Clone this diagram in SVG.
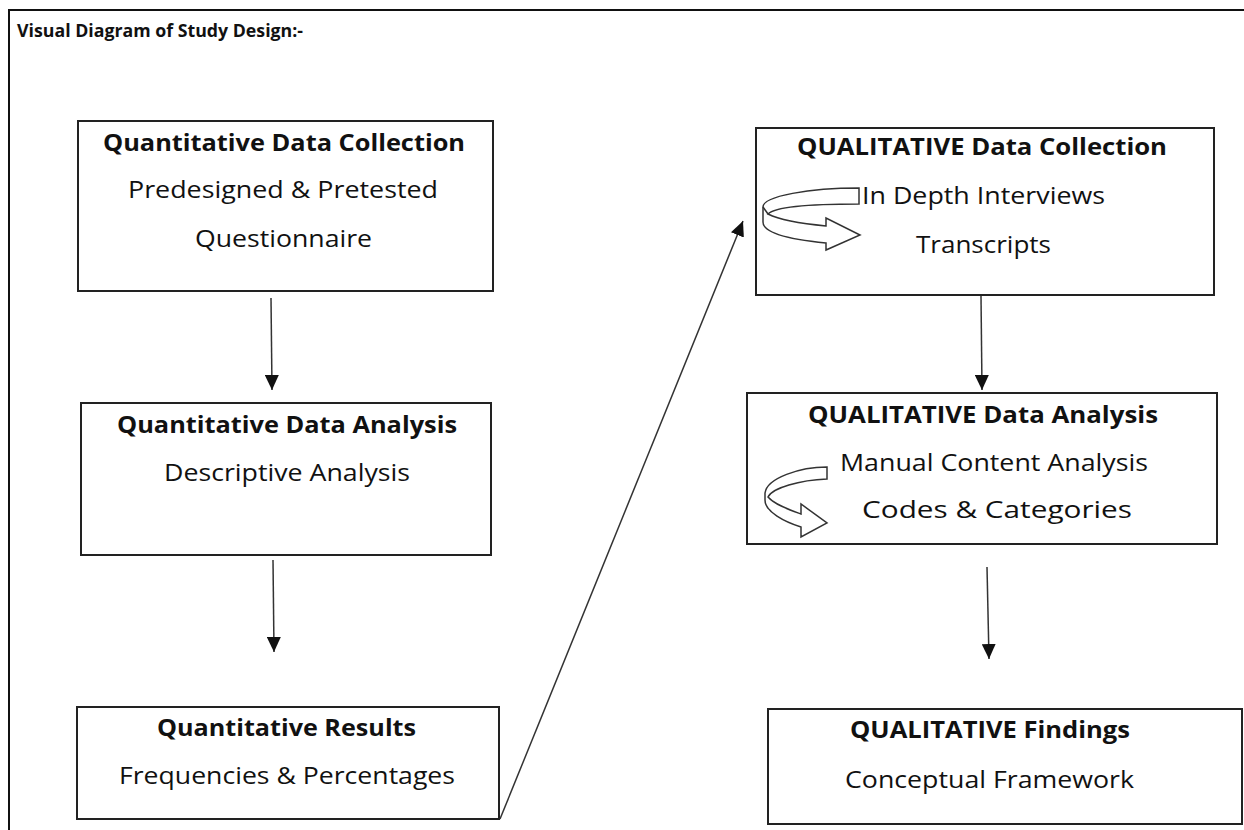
<svg xmlns="http://www.w3.org/2000/svg" width="1244" height="830" viewBox="0 0 1244 830">
<defs>
<style>
.box{fill:#fff;stroke:#222;stroke-width:2}
.t{font-family:"Open Sans",Lato,"Liberation Sans",sans-serif;font-size:23px;fill:#111}
.b{font-weight:bold}
.h{font-size:18px}
.c{fill:none;stroke:#333;stroke-width:1.5}
.ic{fill:#fff;stroke:#333;stroke-width:1.5;stroke-linejoin:miter}
</style>
<marker id="ah" markerUnits="userSpaceOnUse" markerWidth="16" markerHeight="14" viewBox="0 0 16 14" refX="15" refY="7" orient="auto">
<path d="M0 0 L15 7 L0 14 Z" fill="#111"/>
</marker>
</defs>
<rect width="1244" height="830" fill="#fff"/>
<path d="M9 830 L9 10 L1244 10" fill="none" stroke="#111" stroke-width="2"/>
<text class="t b h" x="17" y="37" textLength="286" lengthAdjust="spacingAndGlyphs">Visual Diagram of Study Design:-</text>

<g id="quant-collection">
<rect class="box" x="78" y="121" width="415" height="170"/>
<text class="t b" x="103" y="151" textLength="362" lengthAdjust="spacingAndGlyphs">Quantitative Data Collection</text>
<text class="t" x="128" y="198" textLength="310" lengthAdjust="spacingAndGlyphs">Predesigned &amp; Pretested</text>
<text class="t" x="195" y="247" textLength="177" lengthAdjust="spacingAndGlyphs">Questionnaire</text>
</g>

<g id="quant-analysis">
<rect class="box" x="81" y="403" width="410" height="152"/>
<text class="t b" x="117" y="433" textLength="340" lengthAdjust="spacingAndGlyphs">Quantitative Data Analysis</text>
<text class="t" x="164" y="481" textLength="246" lengthAdjust="spacingAndGlyphs">Descriptive Analysis</text>
</g>

<g id="quant-results">
<rect class="box" x="77" y="707" width="422" height="112"/>
<text class="t b" x="157" y="736" textLength="259" lengthAdjust="spacingAndGlyphs">Quantitative Results</text>
<text class="t" x="119" y="784" textLength="336" lengthAdjust="spacingAndGlyphs">Frequencies &amp; Percentages</text>
</g>

<g id="qual-collection">
<rect class="box" x="756" y="128" width="458" height="167"/>
<text class="t b" x="797" y="155" textLength="370" lengthAdjust="spacingAndGlyphs">QUALITATIVE Data Collection</text>
<path class="ic" d="M859 188 L859 204 C820 204 776 206 768 214 C780 220 805 224 826 226 L826 218 L860 235 L826 250 L826 243 C795 240 763 234 763 222 L763 207 C763 196 810 188 859 188 Z"/>
<path class="c" d="M768 214 L763 207"/>
<text class="t" x="862" y="204" textLength="243" lengthAdjust="spacingAndGlyphs">In Depth Interviews</text>
<text class="t" x="916" y="253" textLength="135" lengthAdjust="spacingAndGlyphs">Transcripts</text>
</g>

<g id="qual-analysis">
<rect class="box" x="747" y="393" width="470" height="151"/>
<text class="t b" x="808" y="423" textLength="350" lengthAdjust="spacingAndGlyphs">QUALITATIVE Data Analysis</text>
<path class="ic" d="M827 467 L827 479 C800 480 772 488 768 497 C775 505 790 510 801 514 L801 504 L827 523 L801 537 L801 527 C785 522 765 512 765 500 L765 493 C767 478 800 467 827 467 Z"/>
<text class="t" x="840" y="471" textLength="308" lengthAdjust="spacingAndGlyphs">Manual Content Analysis</text>
<text class="t" x="862" y="518" textLength="270" lengthAdjust="spacingAndGlyphs">Codes &amp; Categories</text>
</g>

<g id="qual-findings">
<rect class="box" x="768" y="709" width="474" height="115"/>
<text class="t b" x="850" y="738" textLength="280" lengthAdjust="spacingAndGlyphs">QUALITATIVE Findings</text>
<text class="t" x="845" y="788" textLength="289" lengthAdjust="spacingAndGlyphs">Conceptual Framework</text>
</g>

<g id="connectors">
<line class="c" x1="271" y1="298" x2="272" y2="390" marker-end="url(#ah)"/>
<line class="c" x1="273" y1="560" x2="274" y2="652" marker-end="url(#ah)"/>
<line class="c" x1="500" y1="819" x2="743" y2="221" marker-end="url(#ah)"/>
<line class="c" x1="981" y1="296" x2="982" y2="390" marker-end="url(#ah)"/>
<line class="c" x1="987" y1="567" x2="989" y2="659" marker-end="url(#ah)"/>
</g>
</svg>
